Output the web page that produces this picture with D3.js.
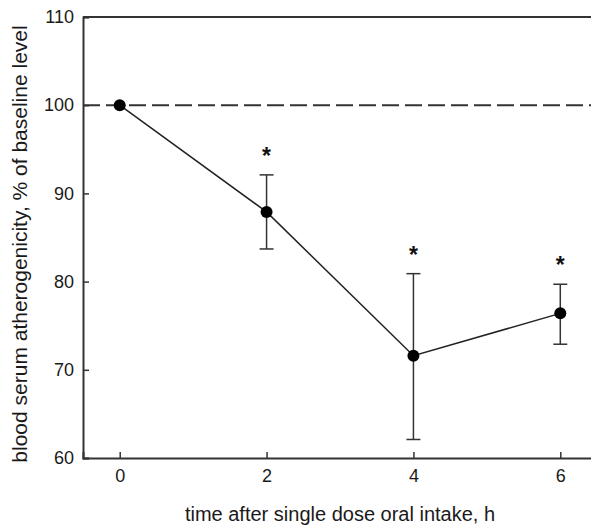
<!DOCTYPE html>
<html>
<head>
<meta charset="utf-8">
<script src="https://cdn.jsdelivr.net/npm/d3@7"></script>
<style>
  html, body { margin: 0; padding: 0; background: #fff; }
  svg { display: block; font-family: "Liberation Sans", Arial, sans-serif; }
</style>
</head>
<body>
<svg id="chart" width="591" height="529"></svg>
<script>
// Time after intake (h) and mean atherogenicity (% of baseline)
const hours = [0, 2, 4, 6];
const means = [100, 87.9, 71.6, 76.4];
const errUpper = [null, 92.1, 80.9, 79.7];
const errLower = [null, 83.7, 62.1, 72.9];
const significant = [false, true, true, true];
const xTicks = [0, 2, 4, 6];
const yTicks = [60, 70, 80, 90, 100, 110];
const baseline = 100;

const svg = d3.select("#chart");
const plotLeft = 83, plotRight = 597, plotTop = 17, plotBottom = 458;

const x = d3.scaleLinear().domain([-0.5, 6.5]).range([plotLeft, plotRight]);
const y = d3.scaleLinear().domain([60, 110]).range([plotBottom, plotTop]);

const axisColor = "#333";

// Baseline reference line
svg.append("line")
  .attr("x1", plotLeft).attr("x2", plotRight)
  .attr("y1", y(baseline)).attr("y2", y(baseline))
  .attr("stroke", "#333").attr("stroke-width", 2)
  .attr("stroke-dasharray", "17,6");

// Top frame line
svg.append("line")
  .attr("x1", plotLeft).attr("x2", plotRight)
  .attr("y1", plotTop).attr("y2", plotTop)
  .attr("stroke", axisColor).attr("stroke-width", 2);

// Axes with inward ticks
const yAxis = svg.append("g")
  .attr("transform", `translate(${plotLeft},0)`)
  .call(d3.axisLeft(y).tickValues(yTicks).tickSize(-6).tickPadding(9).tickFormat(d3.format("d")));
const xAxis = svg.append("g")
  .attr("transform", `translate(0,${plotBottom})`)
  .call(d3.axisBottom(x).tickValues(xTicks).tickSize(-6).tickPadding(11).tickFormat(d3.format("d")));

[yAxis, xAxis].forEach(g => {
  g.select(".domain").attr("stroke", axisColor).attr("stroke-width", 2);
  g.selectAll(".tick line").attr("stroke", axisColor).attr("stroke-width", 1.5);
  g.selectAll(".tick text").attr("fill", "#1a1a1a").style("font-size", "18px")
    .style("font-family", "'Liberation Sans', Arial, sans-serif");
});

// Connecting line
svg.append("path")
  .datum(hours.map((h, i) => [h, means[i]]))
  .attr("fill", "none").attr("stroke", "#222").attr("stroke-width", 1.5)
  .attr("d", d3.line().x(d => x(d[0])).y(d => y(d[1])));

// Error bars
const capHalf = 7;
const errs = hours.map((h, i) => ({ h, hi: errUpper[i], lo: errLower[i], sig: significant[i] }))
  .filter(d => d.hi != null);
const eb = svg.append("g").attr("stroke", "#333").attr("stroke-width", 1.5);
errs.forEach(d => {
  eb.append("line").attr("x1", x(d.h)).attr("x2", x(d.h)).attr("y1", y(d.hi)).attr("y2", y(d.lo));
  eb.append("line").attr("x1", x(d.h) - capHalf).attr("x2", x(d.h) + capHalf).attr("y1", y(d.hi)).attr("y2", y(d.hi));
  eb.append("line").attr("x1", x(d.h) - capHalf).attr("x2", x(d.h) + capHalf).attr("y1", y(d.lo)).attr("y2", y(d.lo));
});

// Significance markers
svg.append("g").selectAll("text")
  .data(errs.filter(d => d.sig))
  .join("text")
  .attr("x", d => x(d.h))
  .attr("y", d => y(d.hi) - 11)
  .attr("text-anchor", "middle")
  .style("font-size", "23px").style("font-weight", "bold")
  .attr("fill", "#111")
  .text("*");

// Mean points
svg.append("g").selectAll("circle")
  .data(hours.map((h, i) => [h, means[i]]))
  .join("circle")
  .attr("cx", d => x(d[0])).attr("cy", d => y(d[1]))
  .attr("r", 6).attr("fill", "#000");

// Axis titles
svg.append("text")
  .attr("x", 340).attr("y", 521)
  .attr("text-anchor", "middle")
  .style("font-size", "20px").attr("fill", "#1a1a1a")
  .text("time after single dose oral intake, h");

svg.append("text")
  .attr("transform", "translate(27,244) rotate(-90)")
  .attr("text-anchor", "middle")
  .style("font-size", "21px").attr("fill", "#1a1a1a")
  .text("blood serum atherogenicity, % of baseline level");
</script>
</body>
</html>
